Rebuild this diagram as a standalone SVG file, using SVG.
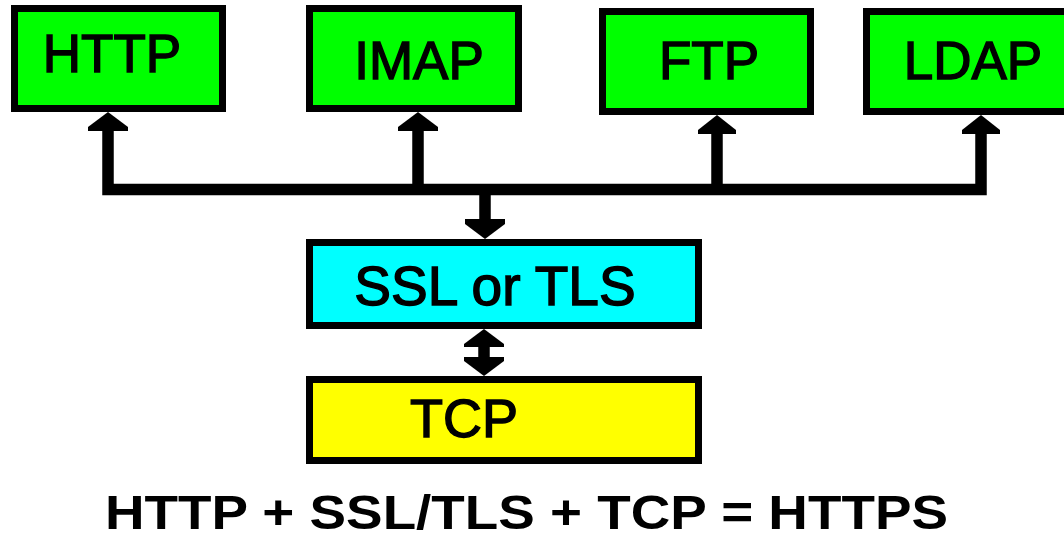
<svg xmlns="http://www.w3.org/2000/svg" width="1064" height="538" viewBox="0 0 1064 538">
<style>
.box{stroke:#000;stroke-width:7}
.proto{fill:#00ff00}
.ssl{fill:#00ffff}
.tcp{fill:#ffff00}
.lbl{font-family:"Liberation Sans",Arial,sans-serif;font-size:53px;fill:#000;stroke:#000;stroke-width:1.4;text-anchor:middle}
.wire{fill:none;stroke:#000;stroke-width:11.5;stroke-linejoin:miter}
.head{fill:#000}
.eq{font-family:"Liberation Sans",Arial,sans-serif;font-size:47.5px;font-weight:bold;fill:#000}
</style>
<rect width="1064" height="538" fill="#fff"/>
<g id="connectors">
<path class="wire" d="M108 131 V189.5 H981 V131"/>
<path class="wire" d="M418 131 V189.5"/>
<path class="wire" d="M717 133 V189.5"/>
<path class="wire" d="M485 184 V221"/>
<path class="wire" d="M484 345 V359"/>
<polygon class="head" points="108,112 128,127 128,131 88,131 88,127"/>
<polygon class="head" points="418,112 438,127 438,131 398,131 398,127"/>
<polygon class="head" points="717,115 736,130 736,134 698,134 698,130"/>
<polygon class="head" points="981,115 1000,130 1000,134 962,134 962,130"/>
<polygon class="head" points="485,239 505,224 505,219 465,219 465,224"/>
<polygon class="head" points="484,329 504,344 504,347 464,347 464,344"/>
<polygon class="head" points="484,376 504,361 504,357 464,357 464,361"/>
</g>
<g id="http">
<rect class="box proto" x="14.5" y="8.5" width="208" height="100"/>
<text class="lbl" x="112" y="72">HTTP</text>
</g>
<g id="imap">
<rect class="box proto" x="309.5" y="8.5" width="209" height="100"/>
<text class="lbl" x="419" y="79">IMAP</text>
</g>
<g id="ftp">
<rect class="box proto" x="602.5" y="11.5" width="208" height="100"/>
<text class="lbl" x="709" y="79">FTP</text>
</g>
<g id="ldap">
<rect class="box proto" x="866.5" y="11.5" width="208" height="100"/>
<text class="lbl" x="973" y="79">LDAP</text>
</g>
<g id="ssl">
<rect class="box ssl" x="309.5" y="242.5" width="389" height="83"/>
<text class="lbl" x="495" y="305" style="font-size:55px">SSL or TLS</text>
</g>
<g id="tcp">
<rect class="box tcp" x="309.5" y="379.5" width="389" height="81"/>
<text class="lbl" x="464" y="437" style="font-size:54px">TCP</text>
</g>
<g id="caption">
<text class="eq" x="105" y="529" textLength="843" lengthAdjust="spacingAndGlyphs">HTTP + SSL/TLS + TCP = HTTPS</text>
</g>
</svg>
